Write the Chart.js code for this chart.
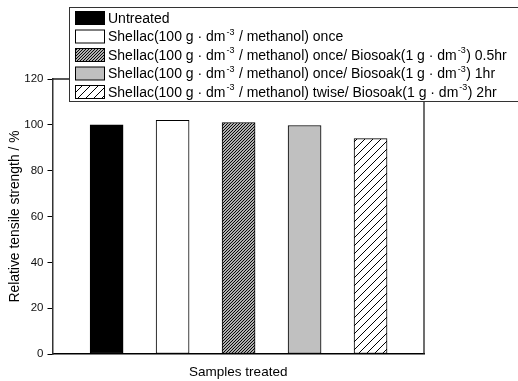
<!DOCTYPE html>
<html>
<head>
<meta charset="utf-8">
<script src="https://cdn.jsdelivr.net/npm/chart.js@4/dist/chart.umd.min.js"></script>
<style>
  body { margin: 0; background: #fff; }
  #chart { display: block; }
</style>
</head>
<body>
<canvas id="chart" width="518" height="381"></canvas>
<script>
// data
const samples = ['Untreated', 'Shellac once', 'Shellac once + Biosoak 0.5hr', 'Shellac once + Biosoak 1hr', 'Shellac twise + Biosoak 2hr'];
const strength = [100, 102, 101, 99.7, 94];
const yTicks = [0, 20, 40, 60, 80, 100, 120];
// legend text, {..} is superscript
const legendLabels = [
    'Untreated',
    'Shellac(100 g \u00b7 dm{-3} / methanol) once',
    'Shellac(100 g \u00b7 dm{-3} / methanol) once/ Biosoak(1 g \u00b7 dm{-3}) 0.5hr',
    'Shellac(100 g \u00b7 dm{-3} / methanol) once/ Biosoak(1 g \u00b7 dm{-3}) 1hr',
    'Shellac(100 g \u00b7 dm{-3} / methanol) twise/ Biosoak(1 g \u00b7 dm{-3}) 2hr'
];

const FONT = '"Liberation Sans", Arial, sans-serif';

function hatch(size, width) {
    const c = document.createElement('canvas');
    c.width = size; c.height = size;
    const g = c.getContext('2d');
    g.fillStyle = '#fff';
    g.fillRect(0, 0, size, size);
    g.strokeStyle = '#000';
    g.lineWidth = width;
    g.beginPath();
    g.moveTo(0, size); g.lineTo(size, 0);
    g.moveTo(-1, 1); g.lineTo(1, -1);
    g.moveTo(size - 1, size + 1); g.lineTo(size + 1, size - 1);
    g.stroke();
    return g.createPattern(c, 'repeat');
}

const ctx = document.getElementById('chart').getContext('2d');
const fills = ['#000000', '#ffffff', hatch(3, 1.2), '#c0c0c0', hatch(8, 1)];

const framePlugin = {
    id: 'frame',
    afterDatasetsDraw(chart) {
        const a = chart.chartArea;
        const c = chart.ctx;
        c.save();
        c.strokeStyle = '#222';
        c.lineWidth = 1.3;
        c.beginPath();
        c.moveTo(a.left, a.top);
        c.lineTo(a.right, a.top);
        c.lineTo(a.right, a.bottom);
        c.stroke();
        c.restore();
    }
};

const legendPlugin = {
    id: 'boxLegend',
    afterDraw(chart) {
        const c = chart.ctx;
        const x0 = 69.5, y0 = 7.5, rowH = 18.5;
        c.save();
        c.fillStyle = '#fff';
        c.fillRect(x0, y0, 460, 94);
        c.strokeStyle = '#333';
        c.lineWidth = 1;
        c.strokeRect(x0, y0, 460, 94);
        legendLabels.forEach((label, i) => {
            const cy = 18 + i * rowH;
            c.fillStyle = fills[i];
            c.fillRect(75.5, cy - 6.5, 29, 13);
            c.strokeStyle = '#000';
            c.strokeRect(75.5, cy - 6.5, 29, 13);
            let x = 108;
            const parts = label.split(/\{([^}]*)\}/);
            c.fillStyle = '#000';
            c.textBaseline = 'middle';
            parts.forEach((p, k) => {
                if (k % 2) {
                    c.font = '9px ' + FONT;
                    c.fillText(p, x + 1, cy - 4);
                    x += c.measureText(p).width + 1.5;
                } else {
                    c.font = '14px ' + FONT;
                    c.fillText(p, x, cy + 1);
                    x += c.measureText(p).width;
                }
            });
        });
        c.restore();
    }
};

new Chart(ctx, {
    type: 'bar',
    data: {
        labels: samples,
        datasets: [{
            label: 'Relative tensile strength',
            data: strength.map((v, i) => ({ x: i + 1, y: v })),
            backgroundColor: fills,
            borderColor: '#000',
            borderWidth: 1,
            borderSkipped: false,
            barThickness: 33
        }]
    },
    options: {
        responsive: false,
        devicePixelRatio: 1,
        animation: false,
        layout: { padding: { top: 79, right: 94, left: 0, bottom: 0 } },
        plugins: {
            legend: { display: false },
            tooltip: { enabled: false }
        },
        scales: {
            x: {
                type: 'linear',
                offset: false,
                min: 0.18,
                max: 5.81,
                grid: { display: false },
                ticks: { display: false },
                border: { display: true, color: '#000', width: 1.5 },
                title: {
                    display: true,
                    text: 'Samples treated',
                    color: '#000',
                    font: { family: FONT, size: 13.5 },
                    padding: { top: 1, bottom: 1 }
                },
                afterFit: s => { s.height = 27; }
            },
            y: {
                min: 0,
                max: 120,
                afterBuildTicks: s => { s.ticks = yTicks.map(v => ({ value: v })); },
                ticks: {
                    color: '#111',
                    font: { family: FONT, size: 11.5 },
                    padding: 4
                },
                grid: {
                    drawOnChartArea: false,
                    tickLength: 5,
                    tickColor: '#000',
                    tickWidth: 1
                },
                border: { display: true, color: '#333', width: 1.5 },
                title: {
                    display: true,
                    text: 'Relative tensile strength / %',
                    color: '#000',
                    font: { family: FONT, size: 13.9 },
                    padding: { top: 7, bottom: 0 }
                },
                afterFit: s => { s.width = 52.5; }
            }
        }
    },
    plugins: [framePlugin, legendPlugin]
});
</script>
</body>
</html>
